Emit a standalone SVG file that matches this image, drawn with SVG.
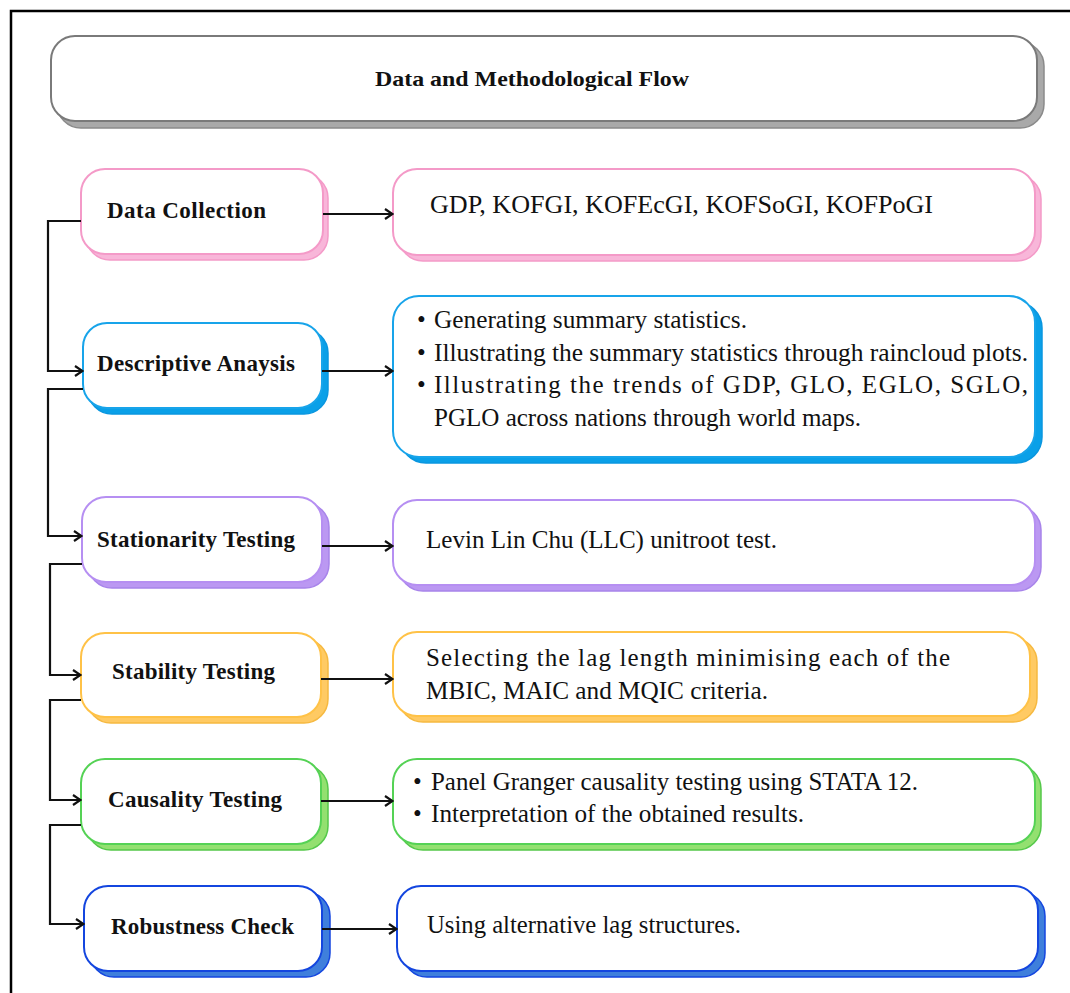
<svg xmlns="http://www.w3.org/2000/svg" width="1070" height="993" viewBox="0 0 1070 993">
<style>
.lbl{font-family:"Liberation Serif","Times New Roman",serif;font-size:23px;font-weight:bold;fill:#111}
.txt{font-family:"Liberation Serif","Times New Roman",serif;font-size:25px;fill:#111}
.main{fill:#fff;stroke-width:2}
.sh{stroke-width:1.5}
.gray .main{stroke:#7a7a7a}.gray .sh{fill:#a9a9a9;stroke:#8a8a8a}
.pink .main{stroke:#f49ac8}.pink .sh{fill:#f8b6d9;stroke:#f49ac8}
.sky .main{stroke:#18a4ea}.sky .sh{fill:#0aa0e8;stroke:#0a96df}
.purp .main{stroke:#b68ff2}.purp .sh{fill:#bb98f2;stroke:#a884ea}
.oran .main{stroke:#ffc247}.oran .sh{fill:#ffca63;stroke:#f6b940}
.gren .main{stroke:#55d255}.gren .sh{fill:#93e070;stroke:#55c84a}
.blue .main{stroke:#1446df}.blue .sh{fill:#3f7fdc;stroke:#1446df}
.conn{fill:none;stroke:#111;stroke-width:2.2}
</style>
<defs>
<marker id="arr" markerWidth="10" markerHeight="12" refX="8" refY="6" orient="auto" markerUnits="userSpaceOnUse">
<path d="M1,1 L8.5,6 L1,11" fill="none" stroke="#111" stroke-width="2.2"/>
</marker>
</defs>
<rect width="1070" height="993" fill="#fff"/>
<path d="M11,993 V11 H1070" fill="none" stroke="#000" stroke-width="2.5"/>

<g id="title" class="gray">
<rect class="sh" x="57" y="42" width="987" height="86" rx="24"/>
<rect class="main" x="51" y="36" width="986" height="85" rx="24"/>
<text class="lbl" x="375" y="86" textLength="314" lengthAdjust="spacingAndGlyphs" style="font-size:21px">Data and Methodological Flow</text>
</g>

<g id="n-data-collection" class="pink">
<rect class="sh" x="86" y="174" width="242" height="86" rx="24"/>
<rect class="main" x="81" y="169" width="242" height="85" rx="24"/>
<text class="lbl" x="107" y="218" textLength="159" lengthAdjust="spacing">Data Collection</text>
</g>
<g id="d-data-collection" class="pink">
<rect class="sh" x="399" y="175" width="642" height="86" rx="24"/>
<rect class="main" x="393" y="169" width="642" height="86" rx="24"/>
<text class="txt" x="430" y="213" textLength="503" lengthAdjust="spacingAndGlyphs">GDP, KOFGI, KOFEcGI, KOFSoGI, KOFPoGI</text>
</g>

<g id="n-descriptive" class="sky">
<rect class="sh" x="88" y="329" width="240" height="85" rx="24"/>
<rect class="main" x="83" y="323" width="239" height="85" rx="24"/>
<text class="lbl" x="97" y="371" textLength="198" lengthAdjust="spacing">Descriptive Anaysis</text>
</g>
<g id="d-descriptive" class="sky">
<rect class="sh" x="400" y="302" width="642" height="161" rx="26"/>
<rect class="main" x="393" y="296" width="642" height="161" rx="26"/>
<text class="txt" x="417" y="328">•</text>
<text class="txt" x="434" y="328" textLength="313" lengthAdjust="spacingAndGlyphs">Generating summary statistics.</text>
<text class="txt" x="417" y="361">•</text>
<text class="txt" x="434" y="361" textLength="594" lengthAdjust="spacingAndGlyphs">Illustrating the summary statistics through raincloud plots.</text>
<text class="txt" x="417" y="393">•</text>
<text class="txt" x="434" y="393" textLength="594" lengthAdjust="spacing">Illustrating the trends of GDP, GLO, EGLO, SGLO,</text>
<text class="txt" x="434" y="426" textLength="427" lengthAdjust="spacingAndGlyphs">PGLO across nations through world maps.</text>
</g>

<g id="n-stationarity" class="purp">
<rect class="sh" x="88" y="503" width="241" height="85" rx="24"/>
<rect class="main" x="82" y="497" width="240" height="85" rx="24"/>
<text class="lbl" x="97" y="547" textLength="198" lengthAdjust="spacing">Stationarity Testing</text>
</g>
<g id="d-stationarity" class="purp">
<rect class="sh" x="399" y="506" width="642" height="85" rx="24"/>
<rect class="main" x="393" y="500" width="642" height="85" rx="24"/>
<text class="txt" x="426" y="548" textLength="351" lengthAdjust="spacingAndGlyphs">Levin Lin Chu (LLC) unitroot test.</text>
</g>

<g id="n-stability" class="oran">
<rect class="sh" x="87" y="639" width="241" height="84" rx="24"/>
<rect class="main" x="81" y="633" width="240" height="84" rx="24"/>
<text class="lbl" x="112" y="679" textLength="163" lengthAdjust="spacing">Stability Testing</text>
</g>
<g id="d-stability" class="oran">
<rect class="sh" x="399" y="638" width="638" height="84" rx="24"/>
<rect class="main" x="393" y="632" width="637" height="84" rx="24"/>
<text class="txt" x="426" y="666" textLength="524" lengthAdjust="spacing">Selecting the lag length minimising each of the</text>
<text class="txt" x="426" y="699" textLength="342" lengthAdjust="spacingAndGlyphs">MBIC, MAIC and MQIC criteria.</text>
</g>

<g id="n-causality" class="gren">
<rect class="sh" x="87" y="765" width="241" height="85" rx="24"/>
<rect class="main" x="81" y="759" width="240" height="85" rx="24"/>
<text class="lbl" x="108" y="807" textLength="174" lengthAdjust="spacing">Causality Testing</text>
</g>
<g id="d-causality" class="gren">
<rect class="sh" x="399" y="765" width="642" height="85" rx="24"/>
<rect class="main" x="393" y="759" width="642" height="85" rx="24"/>
<text class="txt" x="413" y="790">•</text>
<text class="txt" x="431" y="790" textLength="487" lengthAdjust="spacingAndGlyphs">Panel Granger causality testing using STATA 12.</text>
<text class="txt" x="413" y="822">•</text>
<text class="txt" x="431" y="822" textLength="373" lengthAdjust="spacingAndGlyphs">Interpretation of the obtained results.</text>
</g>

<g id="n-robustness" class="blue">
<rect class="sh" x="90" y="892" width="240" height="85" rx="24"/>
<rect class="main" x="84" y="886" width="238" height="85" rx="24"/>
<text class="lbl" x="111" y="934" textLength="183" lengthAdjust="spacing">Robustness Check</text>
</g>
<g id="d-robustness" class="blue">
<rect class="sh" x="403" y="892" width="642" height="85" rx="24"/>
<rect class="main" x="397" y="886" width="641" height="85" rx="24"/>
<text class="txt" x="427" y="933" textLength="314" lengthAdjust="spacingAndGlyphs">Using alternative lag structures.</text>
</g>

<g id="connectors">
<path class="conn" d="M81,221 H48 V371 H82" marker-end="url(#arr)"/>
<path class="conn" d="M83,389 H48 V536 H81" marker-end="url(#arr)"/>
<path class="conn" d="M82,564 H50 V675 H80" marker-end="url(#arr)"/>
<path class="conn" d="M81,700 H50 V800 H80" marker-end="url(#arr)"/>
<path class="conn" d="M81,825 H50 V924 H83" marker-end="url(#arr)"/>
<path class="conn" d="M323,214 H392" marker-end="url(#arr)"/>
<path class="conn" d="M322,371 H392" marker-end="url(#arr)"/>
<path class="conn" d="M322,546 H392" marker-end="url(#arr)"/>
<path class="conn" d="M321,679 H392" marker-end="url(#arr)"/>
<path class="conn" d="M321,801 H392" marker-end="url(#arr)"/>
<path class="conn" d="M322,929 H396" marker-end="url(#arr)"/>
</g>
</svg>
